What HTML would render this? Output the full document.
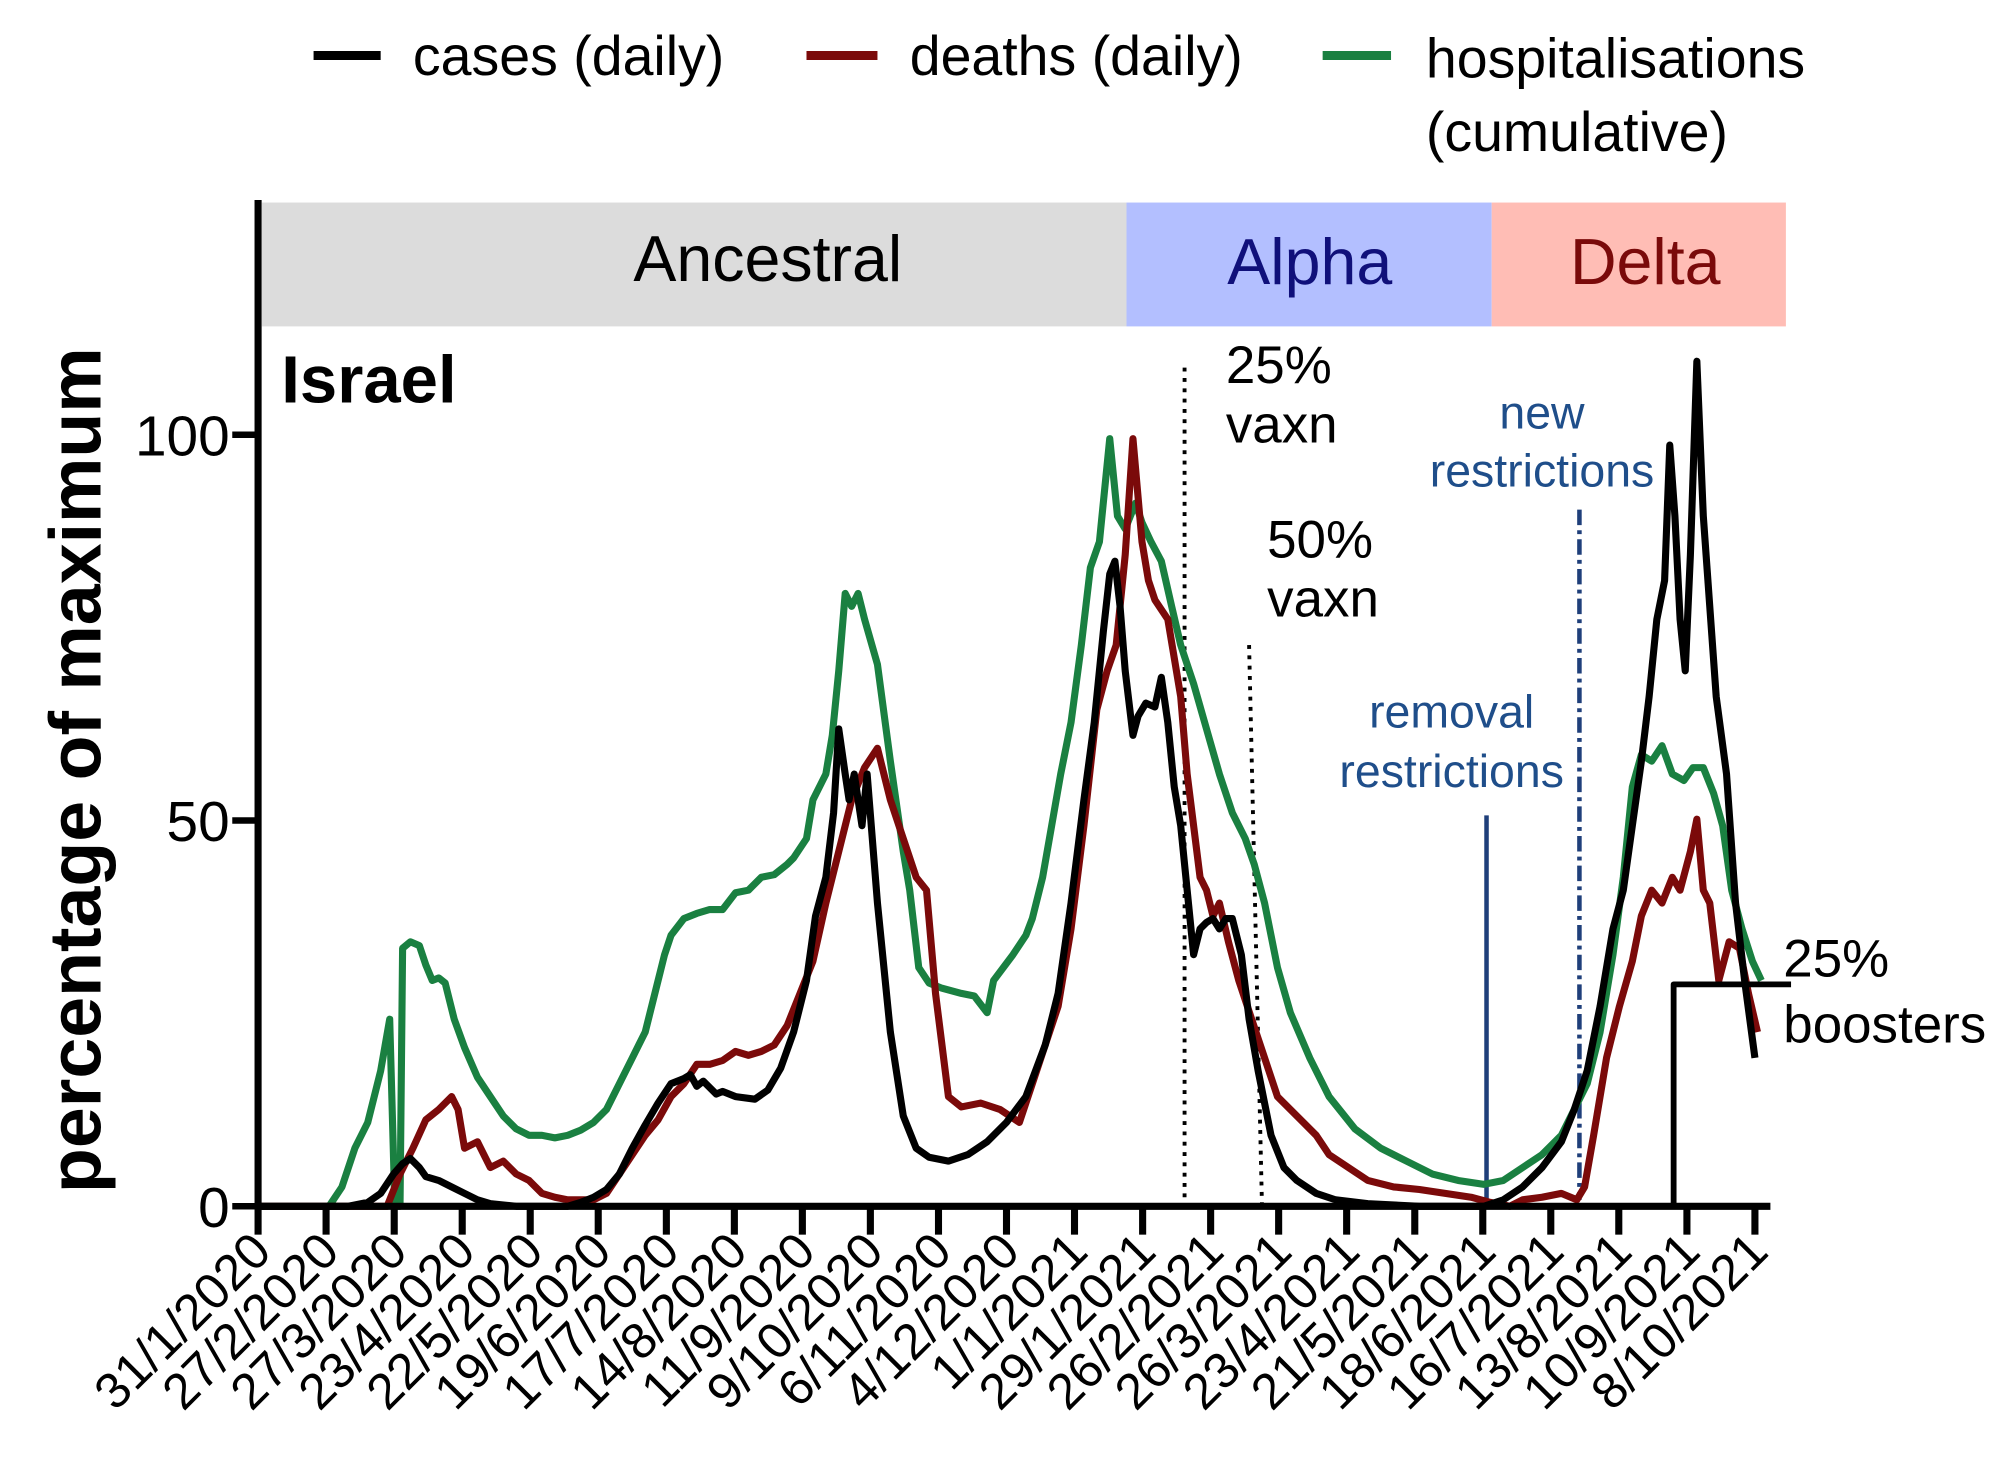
<!DOCTYPE html>
<html><head><meta charset="utf-8"><style>
html,body{margin:0;padding:0;background:#fff;}
svg{display:block;}
text{font-family:"Liberation Sans",Arial,sans-serif;}
</style></head><body>
<svg width="2013" height="1463" viewBox="0 0 1560 1134" preserveAspectRatio="none" xmlns="http://www.w3.org/2000/svg">
<rect width="1560" height="1134" fill="#fff"/>
<!-- legend -->
<line x1="243" y1="43" x2="295" y2="43" stroke="#000" stroke-width="7"/>
<text x="320" y="58" font-size="43">cases (daily)</text>
<line x1="625" y1="43" x2="680" y2="43" stroke="#7b0a0a" stroke-width="7"/>
<text x="705" y="58" font-size="43">deaths (daily)</text>
<line x1="1025" y1="43" x2="1078" y2="43" stroke="#1a8041" stroke-width="7"/>
<text x="1105" y="60" font-size="43">hospitalisations</text>
<text x="1105" y="117" font-size="43">(cumulative)</text>
<!-- bands -->
<rect x="203" y="157" width="670" height="96" fill="#dcdcdc"/>
<rect x="873" y="157" width="283" height="96" fill="#b3bfff"/>
<rect x="1156" y="157" width="228" height="96" fill="#ffbdb5"/>
<text x="595" y="218" font-size="50" text-anchor="middle">Ancestral</text>
<text x="1015" y="220" font-size="50" text-anchor="middle" fill="#10107a">Alpha</text>
<text x="1275" y="220" font-size="50" text-anchor="middle" fill="#7a0a0a">Delta</text>
<!-- y axis label -->
<text transform="translate(78,597) rotate(-90)" font-size="57" font-weight="bold" text-anchor="middle">percentage of maximum</text>
<text x="218" y="312" font-size="52" font-weight="bold">Israel</text>
<!-- y ticks -->
<g font-size="44" text-anchor="end">
<text x="178" y="353">100</text><text x="178" y="652">50</text><text x="178" y="951">0</text>
</g>
<g stroke="#000" stroke-width="5">
<line x1="180" y1="337" x2="200" y2="337"/><line x1="180" y1="636" x2="200" y2="636"/><line x1="180" y1="935" x2="200" y2="935"/>
</g>
<!-- annotation lines -->
<line x1="918" y1="285" x2="918" y2="935" stroke="#000" stroke-width="3" stroke-dasharray="3,5"/>
<line x1="968" y1="500" x2="978" y2="935" stroke="#000" stroke-width="3" stroke-dasharray="3,5"/>
<line x1="1152" y1="632" x2="1152" y2="935" stroke="#1f3f7a" stroke-width="3.5"/>
<line x1="1224" y1="395" x2="1224" y2="930" stroke="#1f3f7a" stroke-width="3.5" stroke-dasharray="12,4,3,4"/>
<text x="950" y="297" font-size="41">25%</text><text x="950" y="343" font-size="41">vaxn</text>
<text x="982" y="432" font-size="41">50%</text><text x="982" y="478" font-size="41">vaxn</text>
<g fill="#1f4e8a" font-size="36" text-anchor="middle">
<text x="1195" y="332">new</text><text x="1195" y="377">restrictions</text>
<text x="1125" y="564">removal</text><text x="1125" y="610">restrictions</text>
</g>
<text x="1382" y="757" font-size="41">25%</text><text x="1382" y="808" font-size="41">boosters</text>
<!-- series -->
<g fill="none" stroke-width="5.5" stroke-linejoin="round">
<polyline stroke="#1a8041" points="255,935 265,920 275,890 285,870 295,830 302,790 306,935 310,935 312,735 318,730 325,733 330,748 335,760 340,758 345,762 352,790 360,812 370,835 380,850 390,865 400,875 410,880 420,880 430,882 440,880 450,876 460,870 470,860 480,840 490,820 500,800 510,760 515,740 520,725 530,712 540,708 550,705 560,705 570,692 580,690 590,680 600,678 610,670 615,665 625,650 630,620 640,600 645,570 650,520 655,460 660,470 665,460 670,480 680,515 690,590 700,660 705,690 712,750 720,762 730,766 745,770 755,772 765,785 770,760 785,740 795,725 800,712 808,680 815,640 822,600 830,560 838,500 845,440 852,420 860,340 866,400 872,410 880,390 885,405 892,420 900,435 908,470 915,500 925,530 935,565 945,600 955,630 965,650 972,670 980,700 990,750 1000,785 1015,820 1030,850 1050,875 1070,890 1090,900 1110,910 1130,915 1150,918 1165,915 1180,905 1195,895 1210,880 1220,860 1230,840 1240,800 1250,740 1258,680 1265,610 1272,585 1280,590 1288,578 1296,600 1305,605 1312,595 1320,595 1328,615 1335,640 1342,690 1350,720 1358,745 1365,760"/>
<polyline stroke="#7b0a0a" points="200,935 300,935 310,910 320,890 330,868 340,860 350,850 355,860 360,890 370,885 380,905 390,900 400,910 410,915 420,925 430,928 440,930 460,930 470,925 480,910 490,895 500,880 510,868 520,850 530,840 540,825 550,825 560,822 570,815 580,818 590,815 600,810 610,795 620,770 630,745 640,700 650,660 660,620 670,595 680,580 690,620 700,650 710,680 718,690 725,770 735,850 745,858 760,855 775,860 790,870 800,840 810,810 820,780 830,720 840,640 850,550 858,520 865,500 872,430 878,340 885,420 890,450 895,465 905,480 910,510 915,540 920,600 925,640 930,680 935,690 940,710 945,700 952,730 960,760 970,790 980,820 990,850 1000,860 1010,870 1020,880 1030,895 1045,905 1060,915 1080,920 1100,922 1120,925 1140,928 1155,932 1170,935 1180,930 1195,928 1210,925 1222,930 1228,920 1235,880 1245,820 1255,780 1265,745 1272,710 1280,690 1288,700 1296,680 1302,690 1310,660 1315,635 1320,690 1325,700 1332,760 1340,730 1348,735 1355,770 1362,800"/>
<polyline stroke="#000" points="200,935 270,935 285,932 295,925 305,910 312,902 318,898 325,905 330,912 340,915 350,920 360,925 370,930 380,933 400,935 440,935 450,932 460,928 470,922 480,910 490,890 500,872 510,855 520,840 530,836 535,833 540,842 545,838 555,848 560,846 570,850 585,852 595,845 605,828 615,800 625,760 632,710 640,680 646,630 650,565 655,600 658,620 662,600 668,640 672,600 680,700 690,800 700,865 710,890 720,897 735,900 750,895 765,885 780,870 795,850 810,810 820,770 830,700 840,620 848,560 855,490 860,445 864,435 868,470 872,520 878,570 882,555 888,545 895,548 900,525 905,560 910,610 915,640 920,690 925,740 930,720 935,715 940,712 945,720 950,712 955,712 962,740 968,790 975,830 985,880 995,905 1005,915 1020,925 1035,930 1060,933 1100,935 1150,935 1165,930 1180,920 1195,905 1210,885 1220,860 1230,830 1240,780 1250,720 1258,690 1265,640 1272,590 1278,540 1284,480 1290,450 1294,345 1298,400 1302,480 1306,520 1310,430 1315,280 1320,400 1325,470 1330,540 1338,600 1345,700 1352,760 1360,820"/>
<polyline stroke="#000" stroke-width="4.5" points="1297,935 1297,763 1388,763"/>
</g>
<!-- axes -->
<g stroke="#000" stroke-width="5.5">
<line x1="200" y1="155" x2="200" y2="937"/>
<line x1="198" y1="935" x2="1372" y2="935"/>
</g>
<g stroke="#000" stroke-width="5.5">
<line x1="200" y1="935" x2="200" y2="957"/><line x1="252.7" y1="935" x2="252.7" y2="957"/><line x1="305.5" y1="935" x2="305.5" y2="957"/><line x1="358.2" y1="935" x2="358.2" y2="957"/><line x1="410.9" y1="935" x2="410.9" y2="957"/><line x1="463.6" y1="935" x2="463.6" y2="957"/><line x1="516.4" y1="935" x2="516.4" y2="957"/><line x1="569.1" y1="935" x2="569.1" y2="957"/><line x1="621.8" y1="935" x2="621.8" y2="957"/><line x1="674.5" y1="935" x2="674.5" y2="957"/><line x1="727.3" y1="935" x2="727.3" y2="957"/><line x1="780" y1="935" x2="780" y2="957"/><line x1="832.7" y1="935" x2="832.7" y2="957"/><line x1="885.5" y1="935" x2="885.5" y2="957"/><line x1="938.2" y1="935" x2="938.2" y2="957"/><line x1="990.9" y1="935" x2="990.9" y2="957"/><line x1="1043.6" y1="935" x2="1043.6" y2="957"/><line x1="1096.4" y1="935" x2="1096.4" y2="957"/><line x1="1149.1" y1="935" x2="1149.1" y2="957"/><line x1="1201.8" y1="935" x2="1201.8" y2="957"/><line x1="1254.5" y1="935" x2="1254.5" y2="957"/><line x1="1307.3" y1="935" x2="1307.3" y2="957"/><line x1="1360" y1="935" x2="1360" y2="957"/>
</g>
<g font-size="39" text-anchor="end">
<text transform="translate(212,972) rotate(-45)">31/1/2020</text>
<text transform="translate(264.7,972) rotate(-45)">27/2/2020</text>
<text transform="translate(317.5,972) rotate(-45)">27/3/2020</text>
<text transform="translate(370.2,972) rotate(-45)">23/4/2020</text>
<text transform="translate(422.9,972) rotate(-45)">22/5/2020</text>
<text transform="translate(475.6,972) rotate(-45)">19/6/2020</text>
<text transform="translate(528.4,972) rotate(-45)">17/7/2020</text>
<text transform="translate(581.1,972) rotate(-45)">14/8/2020</text>
<text transform="translate(633.8,972) rotate(-45)">11/9/2020</text>
<text transform="translate(686.5,972) rotate(-45)">9/10/2020</text>
<text transform="translate(739.3,972) rotate(-45)">6/11/2020</text>
<text transform="translate(792,972) rotate(-45)">4/12/2020</text>
<text transform="translate(844.7,972) rotate(-45)">1/1/2021</text>
<text transform="translate(897.5,972) rotate(-45)">29/1/2021</text>
<text transform="translate(950.2,972) rotate(-45)">26/2/2021</text>
<text transform="translate(1002.9,972) rotate(-45)">26/3/2021</text>
<text transform="translate(1055.6,972) rotate(-45)">23/4/2021</text>
<text transform="translate(1108.4,972) rotate(-45)">21/5/2021</text>
<text transform="translate(1161.1,972) rotate(-45)">18/6/2021</text>
<text transform="translate(1213.8,972) rotate(-45)">16/7/2021</text>
<text transform="translate(1266.5,972) rotate(-45)">13/8/2021</text>
<text transform="translate(1319.3,972) rotate(-45)">10/9/2021</text>
<text transform="translate(1372,972) rotate(-45)">8/10/2021</text>
</g>
</svg>
</body></html>
